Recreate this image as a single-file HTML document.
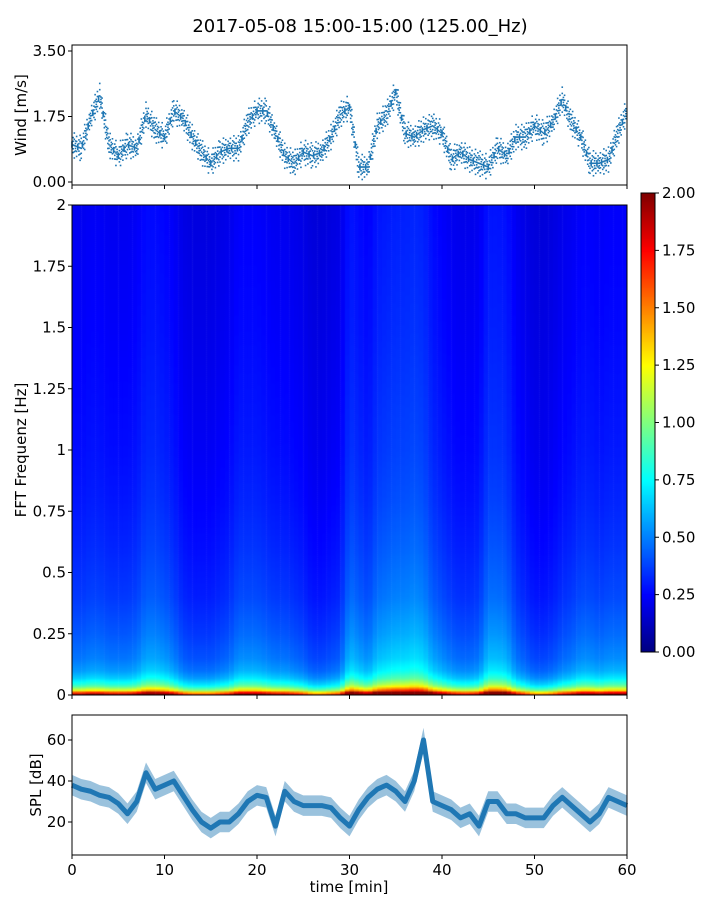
<!DOCTYPE html>
<html><head><meta charset="utf-8">
<style>
body{margin:0;background:#fff;font-family:"DejaVu Sans","Liberation Sans",sans-serif;}
#wrap{position:relative;width:720px;height:900px;}
svg{position:absolute;left:0;top:0;}
canvas{position:absolute;}
</style></head>
<body>
<div id="wrap">
<canvas id="spec" width="555" height="490" style="left:72px;top:205px"></canvas>
<canvas id="cbar" width="14" height="459" style="left:641px;top:193px"></canvas>
<svg id="svg" width="720" height="900"></svg>
</div>
<script>
// ---- data ----
const minutes = [0,1,2,3,4,5,6,7,8,9,10,11,12,13,14,15,16,17,18,19,20,21,22,23,24,25,26,27,28,29,30,31,32,33,34,35,36,37,38,39,40,41,42,43,44,45,46,47,48,49,50,51,52,53,54,55,56,57,58,59,60];
const wind = [1.0,0.9,1.7,2.3,1.0,0.7,1.0,0.9,1.8,1.4,1.2,1.9,1.7,1.2,0.8,0.5,0.8,0.9,0.9,1.6,1.9,1.9,1.3,0.7,0.5,0.8,0.7,0.8,1.2,1.8,2.0,0.4,0.4,1.5,1.8,2.4,1.3,1.2,1.4,1.5,1.3,0.6,0.8,0.6,0.5,0.4,0.9,0.7,1.2,1.2,1.5,1.3,1.6,2.2,1.6,1.2,0.5,0.5,0.6,1.3,1.9];
const spl = [38,36,35,33,32,29,24,30,44,36,38,40,33,26,20,17,20,20,24,30,33,32,18,35,30,28,28,28,27,22,18,26,32,36,38,35,30,40,60,30,28,26,22,24,18,30,30,24,24,22,22,22,28,32,28,24,20,24,32,30,28];
const freqNodes = [0,0.01,0.02,0.04,0.07,0.1,0.15,0.25,0.4,0.6,0.8,1.0,1.5,2.0];
const freqLevel = [2.0,1.7,1.2,0.85,0.65,0.55,0.48,0.42,0.36,0.32,0.29,0.27,0.24,0.22];
const activity = [1,1,1.05,1.05,1,1,1,1.05,1.2,1.2,1.15,1.05,0.9,0.85,0.85,0.85,0.9,0.95,1.1,1.1,1.1,1.05,1.0,1.0,0.95,0.9,0.8,0.8,0.85,0.9,1.3,1.2,1.1,1.3,1.35,1.4,1.4,1.45,1.4,1.2,1.1,1.0,0.95,0.95,1.0,1.3,1.3,1.25,1.0,0.9,0.8,0.8,0.85,0.95,1.0,1.1,1.1,1.05,1.1,1.1,1.1];
const xTicks = [0,10,20,30,40,50,60];
const windTicks = [0,1.75,3.5];
const windTickLabels = ["0.00","1.75","3.50"];
const freqTicks = [0,0.25,0.5,0.75,1,1.25,1.5,1.75,2];
const freqTickLabels = ["0","0.25","0.5","0.75","1","1.25","1.5","1.75","2"];
const cbTicks = [0,0.25,0.5,0.75,1,1.25,1.5,1.75,2];
const splTicks = [20,40,60];

// ---- axes ----
const X0=72,X1=627;
const xs = m => X0 + (m/60)*(X1-X0);
const yWind = v => 182 - v*(131/3.5);
const yFreq = f => 695 - f*(490/2);
const ySpl = v => 863 - v*(41/20);
const yCb = v => 652 - v*(459/2);

function interp(xa,ya,x){
  if(x<=xa[0])return ya[0];
  for(let i=1;i<xa.length;i++){ if(x<=xa[i]){const t=(x-xa[i-1])/(xa[i]-xa[i-1]);return ya[i-1]+t*(ya[i]-ya[i-1]);} }
  return ya[ya.length-1];
}
function jet(v){
  const t=Math.max(0,Math.min(1,v/2));
  const c=x=>Math.max(0,Math.min(1,x));
  const r=c(1.5-Math.abs(4*t-3)), g=c(1.5-Math.abs(4*t-2)), b=c(1.5-Math.abs(4*t-1));
  return `rgb(${Math.round(r*255)},${Math.round(g*255)},${Math.round(b*255)})`;
}

// ---- spectrogram ----
const sc=document.getElementById('spec').getContext('2d');
const nCols=120,nRows=245;
for(let ci=0;ci<nCols;ci++){
  const m=(ci+0.5)/nCols*60;
  const a=interp(minutes,activity,m);
  for(let ri=0;ri<nRows;ri++){
    const f=(ri+0.5)/nRows*2;
    const v=interp(freqNodes,freqLevel,f)*a;
    sc.fillStyle=jet(v);
    const x0=xs(ci/nCols*60)-X0, x1=xs((ci+1)/nCols*60)-X0;
    const y0=yFreq((ri+1)/nRows*2)-205, y1=yFreq(ri/nRows*2)-205;
    sc.fillRect(x0,y0,x1-x0+0.5,y1-y0+0.5);
  }
}
// colorbar
const cc=document.getElementById('cbar').getContext('2d');
for(let i=0;i<459;i++){cc.fillStyle=jet(2*(1-i/459));cc.fillRect(0,i,14,1);}

// ---- svg ----
const svg=document.getElementById('svg');
const NS='http://www.w3.org/2000/svg';
function el(tag,attrs,parent){const e=document.createElementNS(NS,tag);for(const k in attrs)e.setAttribute(k,attrs[k]);(parent||svg).appendChild(e);return e;}
function txt(s,x,y,anchor,size,parent){const t=el('text',{x:x,y:y,'text-anchor':anchor,'font-size':size,'fill':'#000','font-family':'DejaVu Sans, Liberation Sans, sans-serif'},parent);t.textContent=s;return t;}

let t=txt("2017-05-08 15:00-15:00 (125.00_Hz)",360,32,"middle",18);



// wind panel
const gW=el('g',{});


for(let i=0;i<minutes.length-1;i++){
  for(let k=0;k<8;k++){
    const m=minutes[i]+k/8;
    const base=wind[i]+(wind[i+1]-wind[i])*k/8;
    for(let j=-2;j<=2;j++){
      const v=base+j*0.1*((k*7+i*3)%5+1)/3;
      if(v<0.05)continue;
      const d=el('rect',{x:xs(m)-0.8,y:yWind(v)-0.8,width:1.6,height:1.6,fill:'#1f77b4'},gW);
      
      
    }
  }
}
let r=el('rect',{x:X0,y:45,width:X1-X0,height:140,fill:'none',stroke:'#000','stroke-width':1});


windTicks.forEach((v,i)=>{el('line',{x1:X0-4,x2:X0,y1:yWind(v),y2:yWind(v),stroke:'#000'});const l=txt(windTickLabels[i],X0-6,yWind(v)+5,"end",15);});
xTicks.forEach(m=>el('line',{x1:xs(m),x2:xs(m),y1:185,y2:189,stroke:'#000'}));
t=el('text',{x:0,y:0,'font-size':15,'text-anchor':'middle',transform:`translate(26,115) rotate(-90)`});t.textContent="Wind [m/s]";



// spectrogram axes
r=el('rect',{x:X0,y:205,width:X1-X0,height:490,fill:'none',stroke:'#000','stroke-width':1});


freqTicks.forEach((f,i)=>{el('line',{x1:X0-4,x2:X0,y1:yFreq(f),y2:yFreq(f),stroke:'#000'});const l=txt(freqTickLabels[i],X0-6,yFreq(f)+5,"end",15);});
xTicks.forEach(m=>el('line',{x1:xs(m),x2:xs(m),y1:695,y2:699,stroke:'#000'}));
t=el('text',{x:0,y:0,'font-size':15,'text-anchor':'middle',transform:`translate(26,450) rotate(-90)`});t.textContent="FFT Frequenz [Hz]";



// colorbar axis
r=el('rect',{x:641,y:193,width:14,height:459,fill:'none',stroke:'#000','stroke-width':1});


cbTicks.forEach(v=>{el('line',{x1:655,x2:659,y1:yCb(v),y2:yCb(v),stroke:'#000'});const l=txt(v.toFixed(2),662,yCb(v)+5,"start",15);});

// SPL panel
const gS=el('g',{});


let up=[],dn=[],mid=[];
for(let i=0;i<minutes.length;i++){
  const w=(i===38)?6:5;
  up.push(`${xs(minutes[i])},${ySpl(spl[i]+w)}`);
  dn.unshift(`${xs(minutes[i])},${ySpl(spl[i]-w)}`);
  mid.push(`${xs(minutes[i])},${ySpl(spl[i])}`);
}
el('polygon',{points:up.concat(dn).join(' '),fill:'#1f77b4','fill-opacity':0.45},gS);
el('polyline',{points:mid.join(' '),fill:'none',stroke:'#1f77b4','stroke-width':5,'stroke-linejoin':'round'},gS);
r=el('rect',{x:X0,y:715,width:X1-X0,height:140,fill:'none',stroke:'#000','stroke-width':1});


splTicks.forEach(v=>{el('line',{x1:X0-4,x2:X0,y1:ySpl(v),y2:ySpl(v),stroke:'#000'});const l=txt(String(v),X0-6,ySpl(v)+5,"end",15);});
xTicks.forEach(m=>{el('line',{x1:xs(m),x2:xs(m),y1:855,y2:859,stroke:'#000'});const l=txt(String(m),xs(m),875,"middle",15);});
t=el('text',{x:0,y:0,'font-size':15,'text-anchor':'middle',transform:`translate(41,785) rotate(-90)`});t.textContent="SPL [dB]";


t=txt("time [min]",349,892,"middle",15);


</script>
</body></html>
